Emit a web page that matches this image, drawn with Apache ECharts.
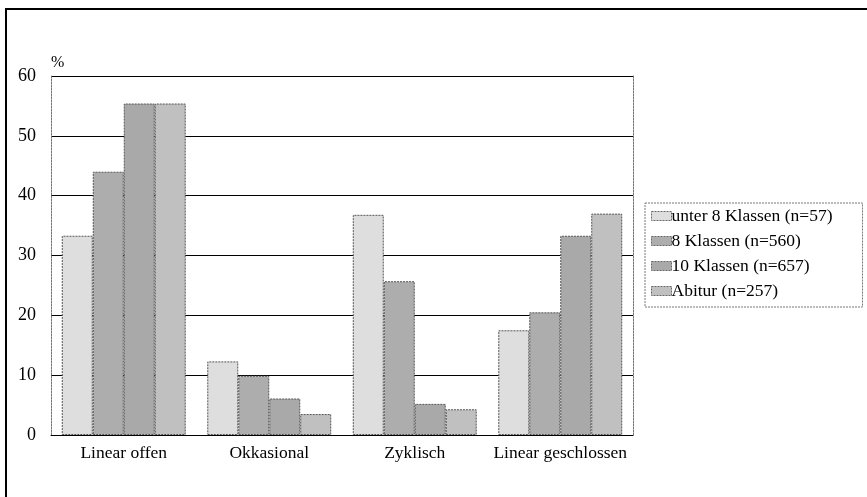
<!DOCTYPE html>
<html>
<head>
<meta charset="utf-8">
<script src="https://cdn.jsdelivr.net/npm/echarts@6/dist/echarts.min.js"></script>
<style>
  html, body { margin: 0; padding: 0; background: #fff; }
  #chart { position: absolute; left: 0; top: 0; width: 867px; height: 497px; }
  #frame { position: absolute; left: 5px; top: 8px; width: 870px; height: 500px;
           border-left: 2px solid #000; border-top: 2px solid #000; pointer-events: none; }
</style>
</head>
<body>
<div id="chart"></div>
<div id="frame"></div>
<script>
// Verlaufstypen nach Schulabschluss (Anteile in %)
const categories = ['Linear offen', 'Okkasional', 'Zyklisch', 'Linear geschlossen'];
const seriesNames = ['unter 8 Klassen (n=57)', '8 Klassen (n=560)', '10 Klassen (n=657)', 'Abitur (n=257)'];
const unter8 = [33.3, 12.3, 36.8, 17.5];
const klassen8 = [44.0, 9.9, 25.7, 20.5];
const klassen10 = [55.4, 6.1, 5.2, 33.3];
const abitur = [55.4, 3.5, 4.3, 37.0];
const yTicks = { min: 0, max: 60, interval: 10 };

const fills = ['#dedede', '#adadad', '#a9a9a9', '#c0c0c0'];
const values = [unter8, klassen8, klassen10, abitur];
const font = 'Liberation Serif, Times New Roman, serif';

const chart = echarts.init(document.getElementById('chart'), null, { renderer: 'canvas' });
chart.setOption({
  animation: false,
  backgroundColor: '#fff',
  textStyle: { fontFamily: font, color: '#000' },
  grid: { left: 51, right: 234, top: 76, bottom: 62, containLabel: false },
  legend: {
    orient: 'vertical',
    left: 645, top: 203,
    padding: [4, 30, 7, 6],
    itemGap: 7,
    itemWidth: 20, itemHeight: 9,
    icon: 'rect',
    borderColor: '#777', borderWidth: 1, borderType: [2, 1],
    textStyle: { fontFamily: font, fontSize: 17.5, color: '#000', padding: [0, 0, 0, -5] },
    data: seriesNames.map((n, i) => ({
      name: n,
      icon: 'rect',
      itemStyle: { color: fills[i], borderColor: '#666', borderWidth: 1, borderType: [2, 1] }
    }))
  },
  xAxis: {
    type: 'category',
    data: categories,
    axisLine: { show: true, lineStyle: { color: '#000', width: 1 } },
    axisTick: { show: false },
    axisLabel: { fontFamily: font, fontSize: 17.5, color: '#000', margin: 9, interval: 0 },
    z: 5
  },
  yAxis: [{
    type: 'value',
    min: yTicks.min, max: yTicks.max, interval: yTicks.interval,
    name: '%',
    nameLocation: 'end',
    nameGap: 5,
    nameTextStyle: { fontFamily: font, fontSize: 16, color: '#000', align: 'left', padding: [0, 0, 0, 0] },
    axisLine: { show: true, lineStyle: { color: '#777', width: 1, type: [2, 1] } },
    axisTick: { show: false },
    axisLabel: { fontFamily: font, fontSize: 18, color: '#000', margin: 15 },
    splitLine: { show: true, lineStyle: { color: '#000', width: 1 } }
  }, {
    type: 'value',
    position: 'right',
    min: yTicks.min, max: yTicks.max, interval: yTicks.interval,
    axisLine: { show: true, lineStyle: { color: '#777', width: 1, type: [2, 1] } },
    axisTick: { show: false },
    axisLabel: { show: false },
    splitLine: { show: false }
  }],
  series: values.map((v, i) => ({
    name: seriesNames[i],
    type: 'bar',
    data: v,
    barGap: '0%',
    barCategoryGap: '14.8%',
    itemStyle: { color: fills[i], borderColor: '#555', borderWidth: 1, borderType: [2, 1] }
  }))
});
</script>
</body>
</html>
